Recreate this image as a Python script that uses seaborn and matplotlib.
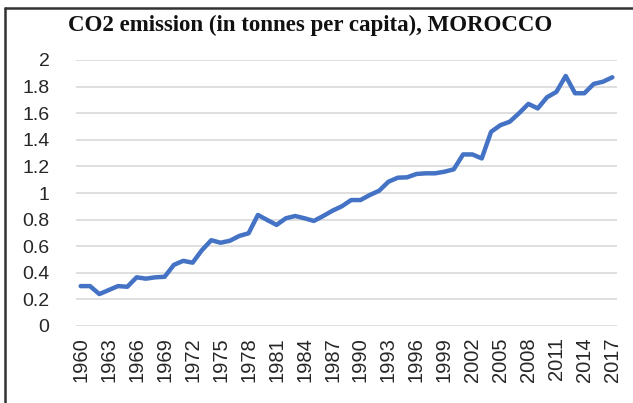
import matplotlib
matplotlib.use("Agg")
import matplotlib.pyplot as plt
from matplotlib.lines import Line2D
import seaborn as sns
import pandas as pd
import numpy as np

years = list(range(1960, 2018))
co2 = [0.30, 0.30, 0.24, 0.27, 0.30, 0.295, 0.366, 0.356, 0.366, 0.37,
       0.46, 0.49, 0.476, 0.57, 0.645, 0.626, 0.641, 0.677, 0.697, 0.835,
       0.797, 0.76, 0.81, 0.827, 0.81, 0.79, 0.827, 0.867, 0.90, 0.947,
       0.947, 0.985, 1.017, 1.085, 1.115, 1.118, 1.143, 1.148, 1.148, 1.16,
       1.178, 1.29, 1.29, 1.26, 1.46, 1.51, 1.536, 1.60, 1.67, 1.636,
       1.72, 1.76, 1.88, 1.75, 1.75, 1.82, 1.837, 1.87]
tick_years = list(range(1960, 2018, 3))
y_ticks = [0, 0.2, 0.4, 0.6, 0.8, 1.0, 1.2, 1.4, 1.6, 1.8, 2.0]
y_labels = ["0", "0.2", "0.4", "0.6", "0.8", "1", "1.2", "1.4", "1.6", "1.8", "2"]
title = "CO2 emission (in tonnes per capita), MOROCCO"

df = pd.DataFrame({"year": years, "co2": co2})

sns.set_theme(style="white")
W, H = 633, 403
fig = plt.figure(figsize=(W / 100, H / 100), dpi=100)
ax = fig.add_axes([76 / W, 1 - 326 / H, (617 - 76) / W, (326 - 60) / H])

sns.lineplot(data=df, x="year", y="co2", ax=ax, color="#4472C4", linewidth=3.2)

ax.set_xlim(1959.5, 2017.5)
ax.set_ylim(0, 2)
ax.set_yticks(y_ticks)
ax.set_yticklabels(y_labels, fontsize=14, family="Liberation Sans", color="#262626")
ax.set_xticks(tick_years)
ax.set_xticklabels([str(y) for y in tick_years], rotation=90, fontsize=14.5,
                   family="Liberation Sans", color="#262626")
ax.tick_params(axis="y", length=0, pad=19)
ax.tick_params(axis="x", length=0, pad=8)
ax.grid(axis="y", color="#D9D9D9", linewidth=1.2)
ax.grid(axis="x", visible=False)
for s in ax.spines.values():
    s.set_visible(False)
ax.set_xlabel("")
ax.set_ylabel("")

fig.text(310 / W, 1 - 25 / H, title, ha="center", va="center", fontsize=16.5,
         fontweight="bold", family="Liberation Serif", color="#111111")

# outer frame (top and left)
fig.add_artist(Line2D([5 / W, 1], [1 - 8 / H, 1 - 8 / H], transform=fig.transFigure,
                      color="#333333", linewidth=1.8))
fig.add_artist(Line2D([5 / W, 5 / W], [0, 1 - 8 / H], transform=fig.transFigure,
                      color="#333333", linewidth=1.8))

fig.savefig("out.png", dpi=100)
